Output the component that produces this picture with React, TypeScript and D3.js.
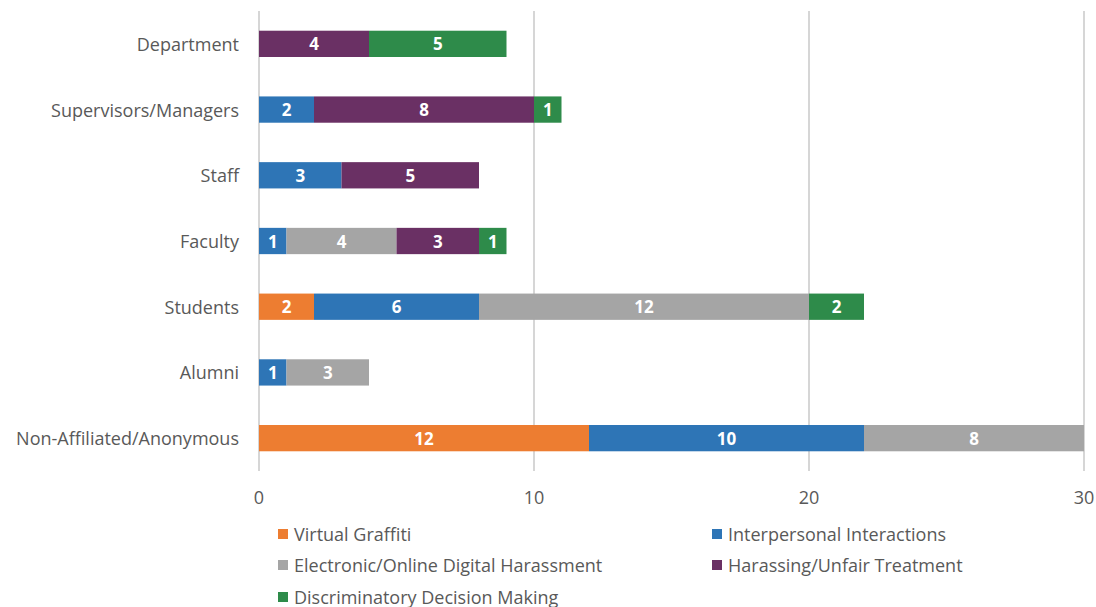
import React from "react";
import * as d3 from "d3";

const categories = [
  "Department",
  "Supervisors/Managers",
  "Staff",
  "Faculty",
  "Students",
  "Alumni",
  "Non-Affiliated/Anonymous",
];
const seriesNames = [
  "Virtual Graffiti",
  "Interpersonal Interactions",
  "Electronic/Online Digital Harassment",
  "Harassing/Unfair Treatment",
  "Discriminatory Decision Making",
];
const virtualGraffiti = [0, 0, 0, 0, 2, 0, 12];
const interpersonal = [0, 2, 3, 1, 6, 1, 10];
const electronic = [0, 0, 0, 4, 12, 3, 8];
const harassing = [4, 8, 5, 3, 0, 0, 0];
const discriminatory = [5, 1, 0, 1, 2, 0, 0];
const xTicks = [0, 10, 20, 30];
const colors = ["#ED7D31", "#2E75B6", "#A5A5A5", "#6A3064", "#2E8B4A"];

const W = 1096;
const H = 607;
const FONT = "'Open Sans', 'Noto Sans', sans-serif";

export default function App() {
  const seriesValues = [virtualGraffiti, interpersonal, electronic, harassing, discriminatory];
  const x = d3.scaleLinear().domain([0, 30]).range([259, 1084]);
  const y = d3.scaleBand().domain(categories).range([11, 471]).paddingInner(0.6).paddingOuter(0.3);
  const rows = categories.map((c, i) => {
    const r: any = { cat: c };
    seriesNames.forEach((s, k) => (r[s] = seriesValues[k][i]));
    return r;
  });
  const stacked = d3.stack().keys(seriesNames)(rows as any);

  const legendPos = [
    [283, 534],
    [717, 534],
    [283, 565],
    [717, 565],
    [283, 597],
  ];

  return (
    <svg width={W} height={H} style={{ position: "absolute", left: 0, top: 0, background: "#fff" }}>
      {xTicks.map((t) => (
        <g key={t}>
          <line x1={x(t)} x2={x(t)} y1={11} y2={471} stroke="#C8C8C8" strokeWidth={1.5} />
          <text x={x(t)} y={504} textAnchor="middle" fontFamily={FONT} fontSize={18} fill="#595959">
            {t}
          </text>
        </g>
      ))}
      {stacked.map((layer, k) =>
        layer.map((d: any, i) => {
          const v = d[1] - d[0];
          if (!v) return null;
          const yy = y(categories[i])!;
          return (
            <g key={k + "-" + i}>
              <rect x={x(d[0])} y={yy} width={x(d[1]) - x(d[0])} height={y.bandwidth()} fill={colors[k]} />
              <text
                x={(x(d[0]) + x(d[1])) / 2}
                y={yy + y.bandwidth() / 2 + 6.5}
                textAnchor="middle"
                fontFamily={FONT}
                fontWeight="bold"
                fontSize={17}
                fill="#fff"
              >
                {v}
              </text>
            </g>
          );
        })
      )}
      {categories.map((c) => (
        <text
          key={c}
          x={239}
          y={y(c)! + y.bandwidth() / 2 + 7}
          textAnchor="end"
          fontFamily={FONT}
          fontSize={18}
          fill="#595959"
        >
          {c}
        </text>
      ))}
      {seriesNames.map((s, k) => (
        <g key={s}>
          <rect x={legendPos[k][0] - 5} y={legendPos[k][1] - 5} width={10} height={10} fill={colors[k]} />
          <text x={legendPos[k][0] + 11} y={legendPos[k][1] + 6.5} fontFamily={FONT} fontSize={18} fill="#595959">
            {s}
          </text>
        </g>
      ))}
    </svg>
  );
}
